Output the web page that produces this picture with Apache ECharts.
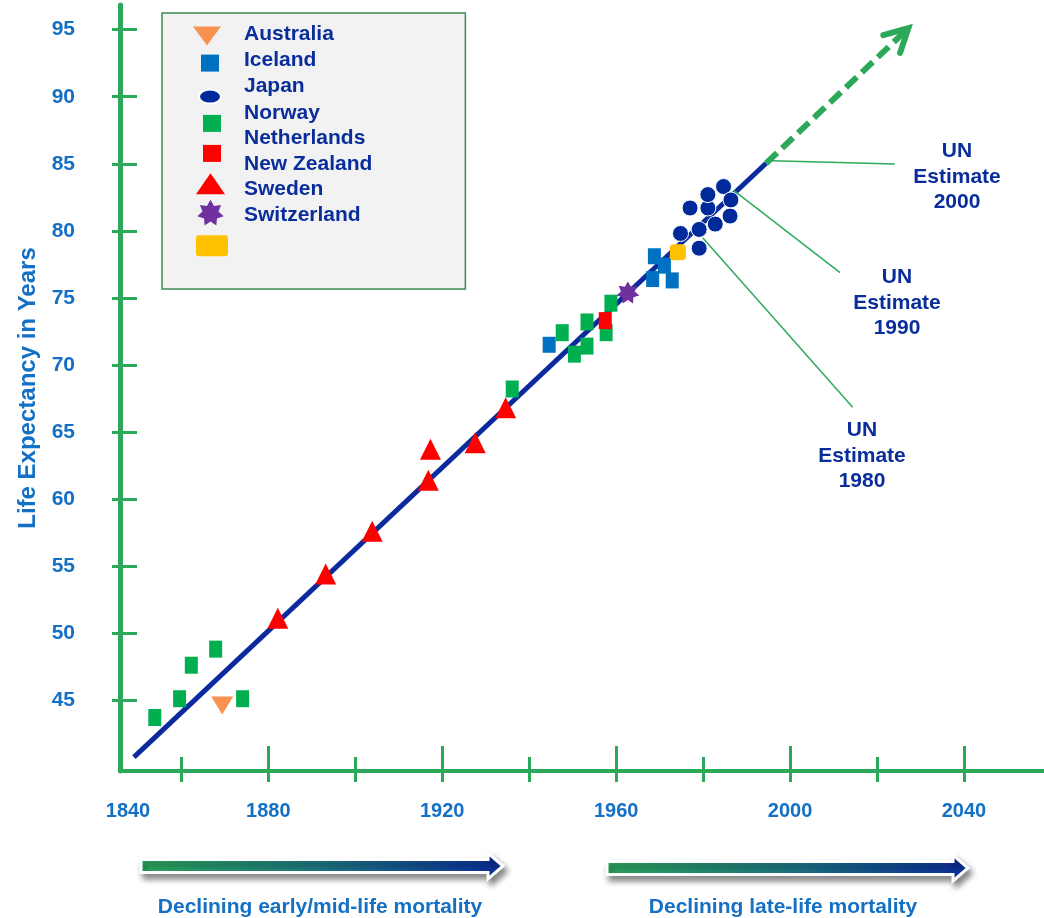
<!DOCTYPE html>
<html>
<head>
<meta charset="utf-8">
<script src="https://cdn.jsdelivr.net/npm/echarts@6/dist/echarts.min.js"></script>
<style>
  html, body { margin: 0; padding: 0; background: #ffffff; }
  #chart { width: 1044px; height: 918px; }
</style>
</head>
<body>
<div id="chart"></div>
<script>
// Record life expectancy [year, years of life]
const australia   = [[1869.4, 44.6]];
const iceland     = [[1944.6, 71.5], [1968.4, 76.4], [1968.8, 78.1], [1971.1, 77.4], [1972.9, 76.3]];
const japan       = [[1974.8, 79.8], [1977.0, 81.7], [1979.1, 80.1], [1979.1, 78.7], [1981.1, 81.7],
                     [1981.1, 82.7], [1982.8, 80.5], [1984.7, 83.3], [1986.2, 81.1], [1986.4, 82.3]];
const norway      = [[1853.9, 43.7], [1859.6, 45.1], [1862.3, 47.6], [1867.9, 48.8], [1874.1, 45.1],
                     [1936.1, 68.2], [1947.6, 72.4], [1953.3, 73.2], [1958.8, 74.6]];
const netherlands = [[1950.4, 70.8], [1953.3, 71.4], [1957.7, 72.4]];
const newZealand  = [[1957.5, 73.3]];
const sweden      = [[1882.2, 51.1], [1893.2, 54.4], [1903.9, 57.6], [1916.8, 61.4], [1917.3, 63.7],
                     [1927.6, 64.2], [1934.6, 66.8]];
const switzerland = [[1962.7, 75.4]];
const unlabeled   = [[1974.2, 78.4]];

// Linear trend of the record and its projection
const trendLine  = [[1849.1, 40.75], [1994.5, 85.04]];
const projection = [[1994.5, 85.04], [2027.2, 95.11]];

// UN estimate leader lines: [from, to]
const unEstimate2000 = [[1995.8, 85.23], [2024.1, 84.98]];
const unEstimate1990 = [[1987.1, 82.99], [2011.5, 76.88]];
const unEstimate1980 = [[1979.9, 79.49], [2014.4, 66.84]];

// Axis ticks and labels
const xLabelValues = [1880, 1920, 1960, 2000, 2040];
const xMinorTicks  = [1860, 1900, 1940, 1980, 2020];
const yTickValues  = [45, 50, 55, 60, 65, 70, 75, 80, 85, 90, 95];

const X_MIN = 1845.9, X_MAX = 2058.4;
const Y_MIN = 39.71, Y_MAX = 96.84;

const GREEN = '#2ca85a';
const LABEL_BLUE = '#1470c4';
const NAVY = '#0a2d9c';
const FONT = "'Liberation Sans', Arial, sans-serif";

function starPath(cx, cy, R, r, n) {
  let d = '';
  for (let i = 0; i < 2 * n; i++) {
    const a = -Math.PI / 2 + i * Math.PI / n;
    const rad = i % 2 === 0 ? R : r;
    d += (i === 0 ? 'M' : 'L') + (cx + rad * Math.cos(a)).toFixed(2) + ',' + (cy + rad * Math.sin(a)).toFixed(2);
  }
  return d + 'Z';
}

// Legend icons drawn in a fixed 36x40 frame so each keeps its own size
const FRAME = 'M0,0M36,40';
const legendIcons = {
  'Australia':   'path://' + FRAME + 'M1,12.2L29,12.2L15,31.2Z',
  'Iceland':     'path://' + FRAME + 'M9,14.8h18v17h-18z',
  'Japan':       'path://' + FRAME + 'M7,30.3a11,7 0 1,0 22,0a11,7 0 1,0 -22,0z',
  'Norway':      'path://' + FRAME + 'M11,22.1h18v17h-18z',
  'Netherlands': 'path://' + FRAME,
  'New Zealand': 'path://' + FRAME + 'M11,1.1h18v17h-18z',
  'Sweden':      'path://' + FRAME + 'M18.5,4L33,25L4,25Z',
  'Switzerland': 'path://' + FRAME + starPath(18.5, 18.5, 13.5, 8.2, 7),
  ' ':           'path://' + FRAME + 'M7,14.9h26a3,3 0 0 1 3,3v15a3,3 0 0 1 -3,3h-26a3,3 0 0 1 -3,-3v-15a3,3 0 0 1 3,-3z'
};

const scatterDefs = [
  { name: 'Australia',   data: australia,   symbol: 'triangle', symbolRotate: 180, symbolSize: [22, 18], color: '#f79251' },
  { name: 'Iceland',     data: iceland,     symbol: 'rect',     symbolSize: [13, 16], color: '#0070c0' },
  { name: 'Japan',       data: japan,       symbol: 'circle',   symbolSize: 16, color: '#002a9a', border: true },
  { name: 'Norway',      data: norway,      symbol: 'rect',     symbolSize: [13, 17], color: '#00b050' },
  { name: 'Netherlands', data: netherlands, symbol: 'rect',     symbolSize: [13, 17], color: '#00b050' },
  { name: 'New Zealand', data: newZealand,  symbol: 'rect',     symbolSize: [13, 17], color: '#ff0000' },
  { name: 'Sweden',      data: sweden,      symbol: 'triangle', symbolSize: [21, 21], color: '#ff0000' },
  { name: 'Switzerland', data: switzerland, symbol: 'path://' + starPath(50, 50, 50, 30, 7), symbolSize: [23, 22], color: '#7030a0' },
  { name: ' ',           data: unlabeled,   symbol: 'roundRect', symbolSize: [16, 16], color: '#ffc000' }
];

const scatterSeries = scatterDefs.map(d => ({
  type: 'scatter',
  name: d.name,
  data: d.data,
  symbol: d.symbol,
  symbolSize: d.symbolSize,
  symbolRotate: d.symbolRotate || 0,
  itemStyle: d.border
    ? { color: d.color, opacity: 1, borderColor: '#ffffff', borderWidth: 1 }
    : { color: d.color, opacity: 1 },
  emphasis: { disabled: true },
  z: 4
}));

function arrowHead(params, api) {
  const a = api.coord([api.value(0), api.value(1)]);
  const b = api.coord([api.value(2), api.value(3)]);
  const ang = Math.atan2(b[1] - a[1], b[0] - a[0]);
  const len = 26, spread = 28 * Math.PI / 180;
  const p1 = [b[0] - len * Math.cos(ang - spread), b[1] - len * Math.sin(ang - spread)];
  const p2 = [b[0] - len * Math.cos(ang + spread), b[1] - len * Math.sin(ang + spread)];
  return {
    type: 'polyline',
    shape: { points: [p1, b, p2] },
    style: { stroke: GREEN, lineWidth: 6, fill: null, lineCap: 'round', lineJoin: 'miter' }
  };
}

const hiddenAxisParts = { axisLine: { show: false }, axisLabel: { show: false }, splitLine: { show: false } };

function gradientArrow(x0, x1, tip, yc) {
  return {
    type: 'polygon',
    shape: { points: [[x0, yc - 6.5], [x1, yc - 6.5], [x1, yc - 13], [tip, yc], [x1, yc + 13], [x1, yc + 6.5], [x0, yc + 6.5]] },
    style: {
      fill: new echarts.graphic.LinearGradient(0, 0, 1, 0, [
        { offset: 0, color: '#2eab5f' },
        { offset: 0.5, color: '#1d7884' },
        { offset: 1, color: '#0b2ea0' }
      ]),
      stroke: '#ffffff',
      lineWidth: 3,
      shadowBlur: 6,
      shadowColor: 'rgba(0,0,0,0.45)',
      shadowOffsetX: 3,
      shadowOffsetY: 5
    }
  };
}

function noteText(x, y, text, color, size) {
  return {
    type: 'text',
    x: x, y: y,
    style: {
      text: text, fill: color, align: 'center', verticalAlign: 'middle',
      fontSize: size, fontWeight: 'bold', fontFamily: FONT, lineHeight: 25.5
    }
  };
}

const chart = echarts.init(document.getElementById('chart'), null, { renderer: 'canvas' });

chart.setOption({
  animation: false,
  backgroundColor: '#ffffff',
  textStyle: { fontFamily: FONT },
  grid: { left: 120, right: 0, top: 5, bottom: 147, containLabel: false },
  legend: {
    orient: 'vertical',
    left: 162,
    top: 13,
    padding: [1.3, 93, 28.7, 29],
    itemWidth: 36,
    itemHeight: 40,
    itemGap: -14.5,
    backgroundColor: '#f2f2f2',
    borderColor: '#3d8b50',
    borderWidth: 1.5,
    selectedMode: false,
    textStyle: { color: NAVY, fontSize: 21, fontWeight: 'bold', fontFamily: FONT, lineHeight: 22, padding: [0, 0, 0, 11] },
    data: scatterDefs.map(d => ({ name: d.name, icon: legendIcons[d.name] }))
  },
  xAxis: [
    {
      type: 'value', position: 'bottom', min: X_MIN, max: X_MAX,
      axisLine: { show: true, onZero: false, lineStyle: { color: GREEN, width: 4 } },
      axisTick: { show: true, length: 11, lineStyle: { color: GREEN, width: 3 }, customValues: xLabelValues.concat(xMinorTicks) },
      axisLabel: {
        customValues: xLabelValues, margin: 30, color: LABEL_BLUE, fontSize: 20, fontWeight: 'bold', fontFamily: FONT,
        formatter: v => String(Math.round(v))
      },
      splitLine: { show: false }
    },
    Object.assign({
      type: 'value', position: 'bottom', min: X_MIN, max: X_MAX,
      axisTick: { show: true, inside: true, length: 25, lineStyle: { color: GREEN, width: 3 }, customValues: xLabelValues }
    }, hiddenAxisParts),
    Object.assign({
      type: 'value', position: 'bottom', min: X_MIN, max: X_MAX,
      axisTick: { show: true, inside: true, length: 14, lineStyle: { color: GREEN, width: 3 }, customValues: xMinorTicks }
    }, hiddenAxisParts)
  ],
  yAxis: [
    {
      type: 'value', position: 'left', min: Y_MIN, max: Y_MAX,
      name: 'Life Expectancy in Years',
      nameLocation: 'middle', nameRotate: 90, nameGap: 80,
      nameTextStyle: { color: LABEL_BLUE, fontSize: 24, fontWeight: 'bold', fontFamily: FONT },
      axisLine: { show: true, onZero: false, lineStyle: { color: GREEN, width: 5 } },
      axisTick: { show: true, length: 8, lineStyle: { color: GREEN, width: 3 }, customValues: yTickValues },
      axisLabel: {
        customValues: yTickValues, margin: 45, color: LABEL_BLUE, fontSize: 21, fontWeight: 'bold', fontFamily: FONT,
        formatter: v => String(Math.round(v))
      },
      splitLine: { show: false }
    },
    Object.assign({
      type: 'value', position: 'left', min: Y_MIN, max: Y_MAX,
      axisTick: { show: true, inside: true, length: 17, lineStyle: { color: GREEN, width: 3 }, customValues: yTickValues }
    }, hiddenAxisParts)
  ],
  series: [
    {
      type: 'line', name: 'trend', data: trendLine, symbol: 'none', silent: true, z: 2,
      lineStyle: { color: '#0a2a9e', width: 5 }
    },
    {
      type: 'line', name: 'projection', data: projection, symbol: 'none', silent: true, z: 2,
      lineStyle: { color: GREEN, width: 6, type: [15, 7] }
    },
    {
      type: 'custom', name: 'projection head', silent: true, z: 2,
      renderItem: arrowHead,
      encode: { x: [0, 2], y: [1, 3] },
      data: [[projection[0][0], projection[0][1], projection[1][0], projection[1][1]]]
    },
    {
      type: 'lines', name: 'UN estimates', coordinateSystem: 'cartesian2d', silent: true, z: 3,
      lineStyle: { color: '#2eaa5c', width: 1.5, opacity: 1, curveness: 0 },
      data: [{ coords: unEstimate2000 }, { coords: unEstimate1990 }, { coords: unEstimate1980 }]
    }
  ].concat(scatterSeries),
  graphic: [
    noteText(128, 811, '1840', LABEL_BLUE, 20),
    noteText(957, 177, 'UN\nEstimate\n2000', NAVY, 21),
    noteText(897, 303, 'UN\nEstimate\n1990', NAVY, 21),
    noteText(862, 456, 'UN\nEstimate\n1980', NAVY, 21),
    gradientArrow(141, 488, 503, 866),
    gradientArrow(607, 953, 968, 868),
    noteText(320, 907, 'Declining early/mid-life mortality', LABEL_BLUE, 21),
    noteText(783, 907, 'Declining late-life mortality', LABEL_BLUE, 21)
  ]
});
</script>
</body>
</html>
